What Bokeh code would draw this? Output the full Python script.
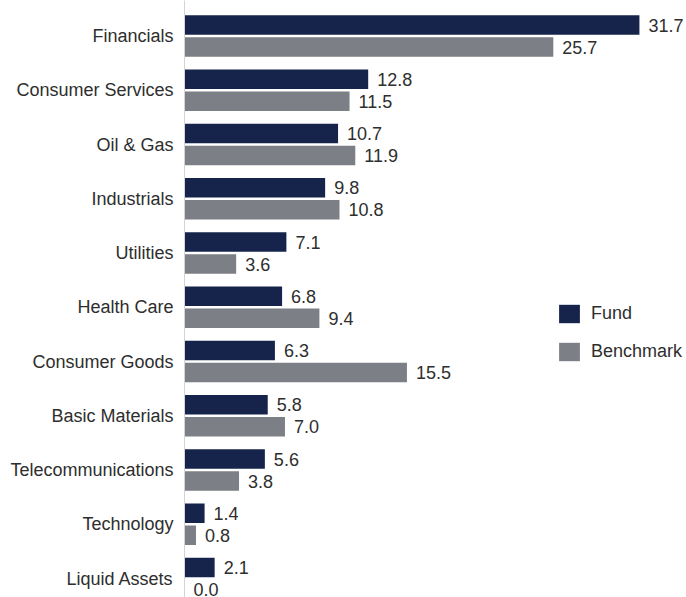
from bokeh.plotting import figure
from bokeh.models import Range1d, FixedTicker, Legend, LegendItem, ColumnDataSource
from bokeh.transform import dodge
from bokeh.embed import file_html
from bokeh.resources import INLINE

categories = ["Financials", "Consumer Services", "Oil & Gas", "Industrials", "Utilities",
              "Health Care", "Consumer Goods", "Basic Materials", "Telecommunications",
              "Technology", "Liquid Assets"]
fund = [31.7, 12.8, 10.7, 9.8, 7.1, 6.8, 6.3, 5.8, 5.6, 1.4, 2.1]
benchmark = [25.7, 11.5, 11.9, 10.8, 3.6, 9.4, 15.5, 7.0, 3.8, 0.8, 0.0]

FUND_C = "#16244c"
BENCH_C = "#7c7f85"
TEXT_C = "#2e2e2e"
FONT = "Liberation Sans"
FS = "18px"

pos = list(range(len(categories)))
src = ColumnDataSource(dict(
    y=pos, fund=fund, bench=benchmark,
    fund_lbl=[f"{v:.1f}" for v in fund],
    bench_lbl=[f"{v:.1f}" for v in benchmark],
))

p = figure(width=686, height=597, output_backend="svg", toolbar_location=None,
           x_range=Range1d(0, 34.98), y_range=Range1d(10.349, -0.656),
           min_border_left=184, min_border_right=0, min_border_top=0, min_border_bottom=0)

off = 0.203
bh = 0.36
r_f = p.hbar(y=dodge("y", -off, range=p.y_range), right="fund", left=0, height=bh,
             source=src, fill_color=FUND_C, line_color=None)
r_b = p.hbar(y=dodge("y", off, range=p.y_range), right="bench", left=0, height=bh,
             source=src, fill_color=BENCH_C, line_color=None)

p.text(x="fund", y=dodge("y", -off, range=p.y_range), text="fund_lbl", source=src,
       x_offset=9, text_align="left", text_baseline="middle",
       text_font_size=FS, text_color=TEXT_C, text_font={"value": FONT})
p.text(x="bench", y=dodge("y", off, range=p.y_range), text="bench_lbl", source=src,
       x_offset=9, text_align="left", text_baseline="middle",
       text_font_size=FS, text_color=TEXT_C, text_font={"value": FONT})

p.xaxis.visible = False
p.xgrid.visible = False
p.ygrid.visible = False
p.outline_line_color = None

ax = p.yaxis[0]
ax.ticker = FixedTicker(ticks=pos)
ax.major_label_overrides = {i: c for i, c in zip(pos, categories)}
ax.major_tick_line_color = None
ax.major_tick_out = 0
ax.major_tick_in = 0
ax.minor_tick_line_color = None
ax.minor_tick_out = 0
ax.axis_line_color = "#d4d4d4"
ax.major_label_standoff = 11
ax.major_label_text_font = FONT
ax.major_label_text_font_size = FS
ax.major_label_text_color = TEXT_C

legend = Legend(items=[LegendItem(label="Fund", renderers=[r_f]),
                       LegendItem(label="Benchmark", renderers=[r_b])],
                location=(372, 234), padding=0, margin=0, spacing=15,
                glyph_width=26, glyph_height=23, label_standoff=9,
                label_text_font=FONT, label_text_font_size=FS,
                label_text_color=TEXT_C, border_line_color=None,
                background_fill_alpha=0)
p.add_layout(legend, "center")

open("out.html", "w").write(file_html(p, INLINE))
